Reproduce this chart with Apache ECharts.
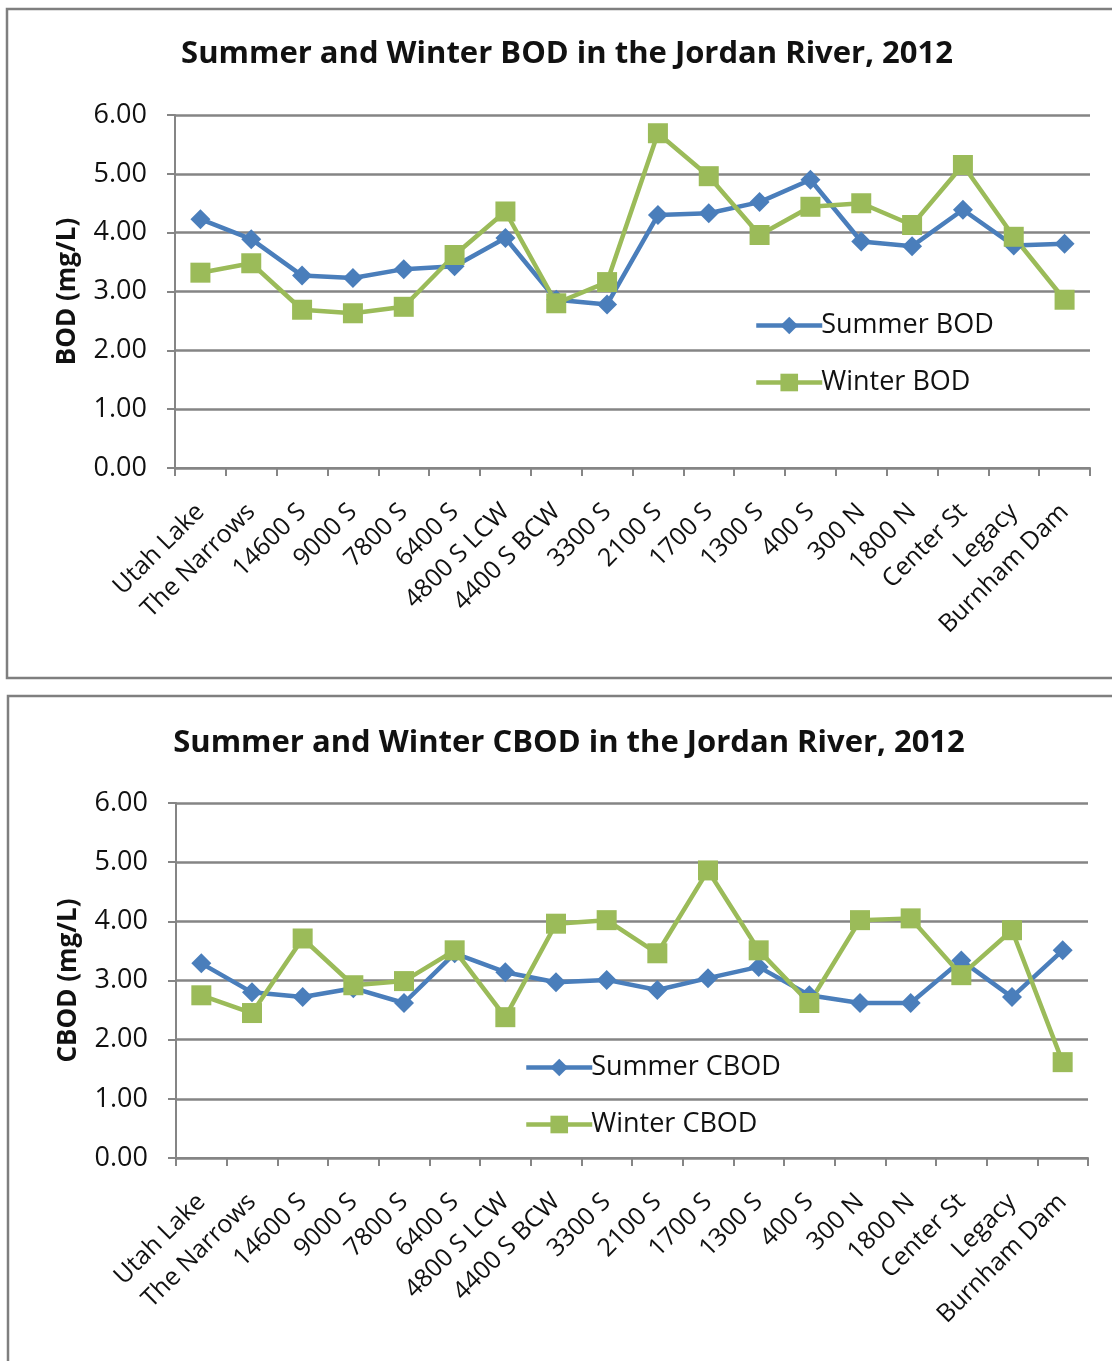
<!DOCTYPE html>
<html><head><meta charset="utf-8">
<script src="https://cdn.jsdelivr.net/npm/echarts@6/dist/echarts.min.js"></script>
<style>html,body{margin:0;padding:0;background:#fff}#c{width:1112px;height:1361px}</style>
</head><body><div id="c"></div>
<script>
const categories = ["Utah Lake","The Narrows","14600 S","9000 S","7800 S","6400 S","4800 S LCW","4400 S BCW","3300 S","2100 S","1700 S","1300 S","400 S","300 N","1800 N","Center St","Legacy","Burnham Dam"];
const summerBOD = [4.23,3.89,3.27,3.23,3.38,3.43,3.91,2.86,2.78,4.30,4.33,4.52,4.90,3.85,3.77,4.39,3.78,3.81];
const winterBOD = [3.32,3.48,2.69,2.63,2.74,3.62,4.36,2.80,3.16,5.69,4.96,3.96,4.44,4.50,4.13,5.15,3.93,2.86];
const summerCBOD = [3.29,2.80,2.72,2.87,2.62,3.46,3.14,2.97,3.01,2.84,3.04,3.23,2.75,2.62,2.62,3.34,2.72,3.51];
const winterCBOD = [2.75,2.45,3.71,2.92,2.99,3.51,2.38,3.96,4.02,3.46,4.86,3.51,2.62,4.02,4.05,3.09,3.85,1.62];
const yTicks = ["0.00","1.00","2.00","3.00","4.00","5.00","6.00"];

const FONT = "Open Sans";
const BLUE = "#4a7ebb", GREEN = "#9bbb59", GRID = "#858585";

function xAxis(idx){
  return {type:'category', gridIndex:idx, data:categories, boundaryGap:true,
    axisLine:{lineStyle:{color:GRID,width:2}},
    axisTick:{show:true,length:8,lineStyle:{color:GRID,width:2}},
    axisLabel:{rotate:45,fontSize:25,color:'#111',fontFamily:FONT,margin:40,interval:0}};
}
function yAxis(idx,name){
  return {type:'value', gridIndex:idx, min:0, max:6, interval:1,
    name:name, nameLocation:'middle', nameGap:94,
    nameTextStyle:{fontSize:26,fontWeight:'bold',color:'#111',fontFamily:FONT},
    axisLine:{show:true,lineStyle:{color:GRID,width:2}},
    axisTick:{show:true,length:8,lineStyle:{color:GRID,width:2}},
    splitLine:{lineStyle:{color:GRID,width:2.5}},
    axisLabel:{fontSize:27,color:'#111',fontFamily:FONT,margin:28,
      formatter:v=>yTicks[Math.round(v)]}};
}
function ser(name,data,idx,color,symbol,size){
  return {name:name,type:'line',xAxisIndex:idx,yAxisIndex:idx,data:data,
    symbol:symbol,symbolSize:size,showAllSymbol:true,
    lineStyle:{color:color,width:4.5},itemStyle:{color:color},animation:false};
}
const legendCommon = {orient:'vertical',itemWidth:66,itemHeight:22,itemGap:30,
  lineStyle:{width:4.5},
  textStyle:{fontSize:27,color:'#111',fontFamily:FONT,padding:[0,0,0,-6]}};
const chart = echarts.init(document.getElementById('c'),null,{renderer:'canvas'});
chart.setOption({
  backgroundColor:'#fff',
  animation:false,
  title:[
    {text:'Summer and Winter BOD in the Jordan River, 2012',left:562,top:34,textAlign:'center',
     textStyle:{fontSize:31,fontWeight:'bold',color:'#111',fontFamily:FONT}},
    {text:'Summer and Winter CBOD in the Jordan River, 2012',left:564,top:723,textAlign:'center',
     textStyle:{fontSize:31,fontWeight:'bold',color:'#111',fontFamily:FONT}}
  ],
  grid:[
    {left:175,top:115,width:915,height:353},
    {left:176,top:803,width:912,height:355}
  ],
  xAxis:[xAxis(0),xAxis(1)],
  yAxis:[yAxis(0,'BOD (mg/L)'),yAxis(1,'CBOD (mg/L)')],
  legend:[
    Object.assign({data:['Summer BOD','Winter BOD'],left:749,top:307},legendCommon),
    Object.assign({data:['Summer CBOD','Winter CBOD'],left:519,top:1049},legendCommon)
  ],
  graphic:[
    {type:'rect',shape:{x:7,y:9,width:1120,height:669},style:{fill:null,stroke:'#7f7f7f',lineWidth:2.5},silent:true},
    {type:'rect',shape:{x:8,y:696,width:1120,height:700},style:{fill:null,stroke:'#7f7f7f',lineWidth:2.5},silent:true}
  ],
  series:[
    ser('Summer BOD',summerBOD,0,BLUE,'diamond',20),
    ser('Winter BOD',winterBOD,0,GREEN,'rect',20),
    ser('Summer CBOD',summerCBOD,1,BLUE,'diamond',20),
    ser('Winter CBOD',winterCBOD,1,GREEN,'rect',20)
  ]
});
</script></body></html>
